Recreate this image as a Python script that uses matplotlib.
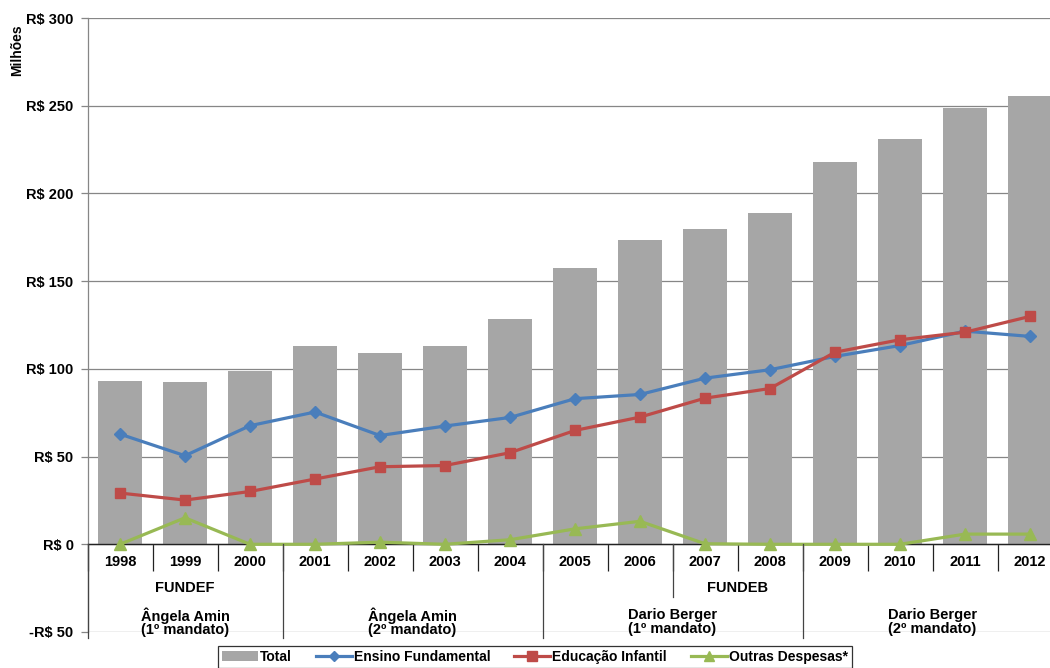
import matplotlib
matplotlib.use("Agg")
import matplotlib.pyplot as plt
from matplotlib.lines import Line2D
from matplotlib.patches import Patch

years = ["1998", "1999", "2000", "2001", "2002", "2003", "2004", "2005",
         "2006", "2007", "2008", "2009", "2010", "2011", "2012"]
total = [93.2, 92.6, 98.5, 113.3, 109.0, 113.3, 128.6, 157.4,
         173.4, 179.5, 188.8, 218.2, 231.0, 248.6, 255.5]
ensino_fundamental = [62.8, 50.5, 67.6, 75.4, 62.0, 67.4, 72.3, 83.0,
                      85.4, 94.7, 99.5, 107.1, 113.3, 121.5, 118.5]
educacao_infantil = [29.2, 25.2, 30.1, 37.2, 44.2, 44.9, 52.2, 64.9,
                     72.5, 83.3, 88.8, 109.5, 116.6, 120.9, 129.9]
outras_despesas = [0.0, 15.1, 0.0, 0.0, 1.2, 0.0, 2.6, 8.8,
                   13.1, 0.3, 0.0, 0.0, 0.0, 5.8, 5.8]

fund_labels = ["FUNDEF", "FUNDEB"]
fund_pos = [1.0, 9.5]
gov_labels = ["Ângela Amin\n(1º mandato)", "Ângela Amin\n(2º mandato)",
              "Dario Berger\n(1º mandato)", "Dario Berger\n(2º mandato)"]
gov_pos = [1.0, 4.5, 8.5, 12.5]

yticks = [-50, 0, 50, 100, 150, 200, 250, 300]
ytick_labels = ["-R$ 50", "R$ 0", "R$ 50", "R$ 100", "R$ 150",
                "R$ 200", "R$ 250", "R$ 300"]

FONT = ["Liberation Sans Narrow", "Liberation Sans", "DejaVu Sans"]
plt.rcParams["font.family"] = FONT
plt.rcParams["font.weight"] = "bold"

C_BAR = "#A6A6A6"
C_BLUE = "#4A7EBB"
C_RED = "#BE4B48"
C_GREEN = "#98B954"
C_GRID = "#868686"

fig = plt.figure(figsize=(10.5, 6.68), dpi=100)
ax = fig.add_axes([87.5 / 1050, 36 / 668, 975 / 1050, 614 / 668])

x = list(range(len(years)))
ax.bar(x, total, width=0.68, color=C_BAR, zorder=2)
ax.plot(x, ensino_fundamental, color=C_BLUE, lw=2.3, marker="D",
        markersize=6, zorder=4)
ax.plot(x, educacao_infantil, color=C_RED, lw=2.3, marker="s",
        markersize=7.5, zorder=4)
ax.plot(x, outras_despesas, color=C_GREEN, lw=2.3, marker="^",
        markersize=8, zorder=4)

ax.set_xlim(-0.5, 14.5)
ax.set_ylim(-50, 300)
ax.set_yticks(yticks)
ax.set_yticklabels(ytick_labels, fontsize=10.5, fontweight="bold")
ax.yaxis.grid(True, color=C_GRID, lw=0.9, zorder=0)
ax.set_axisbelow(True)
ax.tick_params(axis="y", length=5, width=0.9, color=C_GRID, pad=5)

for s in ["top", "right"]:
    ax.spines[s].set_visible(False)
ax.spines["left"].set_color(C_GRID)
ax.spines["left"].set_linewidth(0.9)
ax.spines["bottom"].set_position(("data", 0))
ax.spines["bottom"].set_color("#222222")
ax.spines["bottom"].set_linewidth(1.0)
ax.spines["bottom"].set_zorder(3)

# category ticks: labels at centers, tick marks at boundaries
ax.set_xticks(x)
ax.set_xticklabels(years, fontsize=10.5, fontweight="bold")
ax.tick_params(axis="x", which="major", length=0, pad=8)
ax.set_xticks([i + 0.5 for i in range(-1, len(years))], minor=True)
ax.tick_params(axis="x", which="minor", length=15.5 * 1.754 * 0.72,
               width=0.9, color="#222222", direction="out")

# multi-level category separators
for b in [-0.5, 2.5, 6.5, 10.5]:
    ax.plot([b, b], [0, -53.7], color="#444444", lw=0.9, clip_on=False,
            zorder=5)
ax.plot([8.5, 8.5], [0, -30.3], color="#444444", lw=0.9, clip_on=False,
        zorder=5)

for lbl, p in zip(fund_labels, fund_pos):
    ax.text(p, -24.8, lbl, ha="center", va="center", fontsize=10.5,
            fontweight="bold")
for lbl, p in zip(gov_labels, gov_pos):
    ax.text(p, -44.3, lbl, ha="center", va="center", fontsize=10.5,
            fontweight="bold", linespacing=0.95)

fig.text(17 / 1050, 1 - 50 / 668, "Milhões", rotation=90, ha="center",
         va="center", fontsize=10, fontweight="bold")

handles = [
    Patch(facecolor=C_BAR, edgecolor="none"),
    Line2D([], [], color=C_BLUE, lw=2.3, marker="D", markersize=5),
    Line2D([], [], color=C_RED, lw=2.3, marker="s", markersize=6.5),
    Line2D([], [], color=C_GREEN, lw=2.3, marker="^", markersize=7),
]
labels = ["Total", "Ensino Fundamental", "Educação Infantil",
          "Outras Despesas*"]
leg = fig.legend(handles, labels, loc="upper left",
                 bbox_to_anchor=(218 / 1050, 1 - 646 / 668), ncol=4,
                 frameon=True, fancybox=False,
                 handlelength=2.6, handletextpad=0.15, columnspacing=1.7,
                 borderpad=0.3, borderaxespad=0.0,
                 prop={"weight": "bold", "size": 10, "family": FONT})
leg.get_frame().set_edgecolor("#000000")
leg.get_frame().set_linewidth(0.9)

fig.savefig("out.png", dpi=100)
